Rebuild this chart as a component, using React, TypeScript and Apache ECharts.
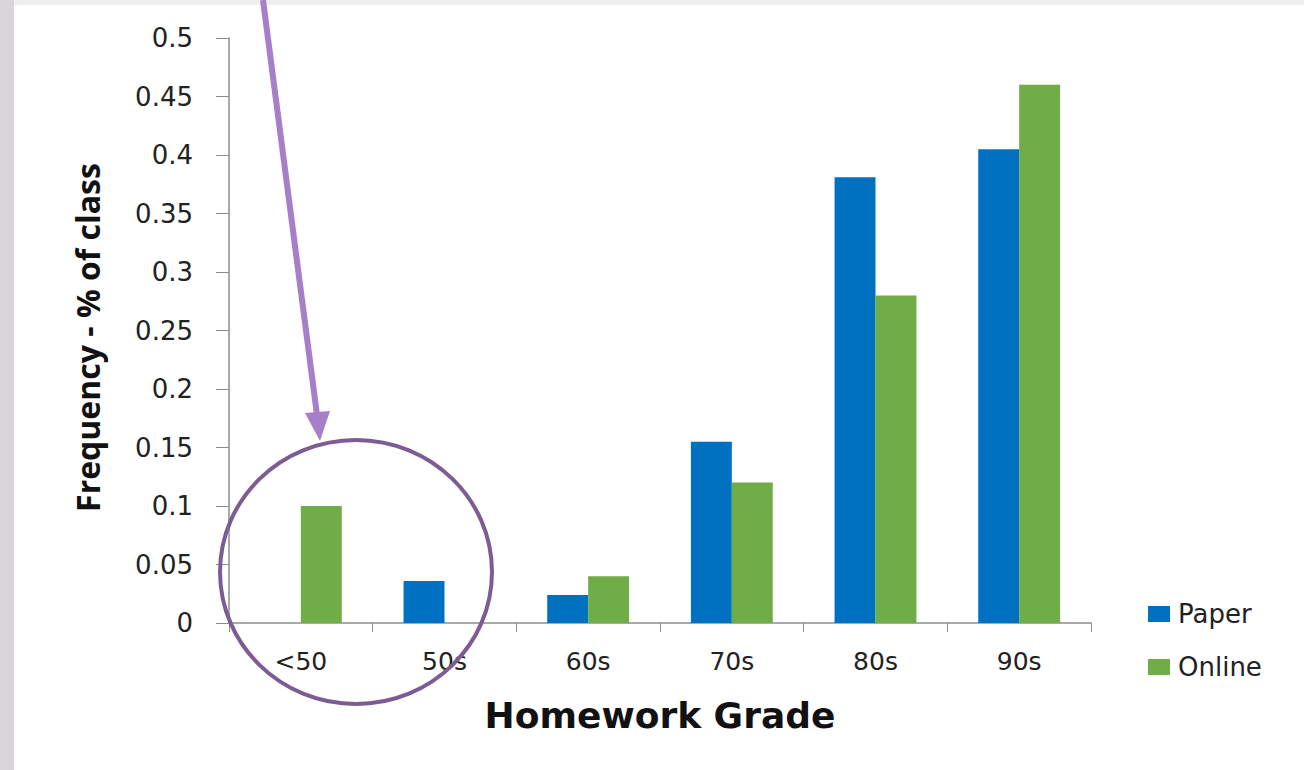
import React, { useEffect, useRef } from "react";
import * as echarts from "echarts";

const categories = ["<50", "50s", "60s", "70s", "80s", "90s"];
const paper = [0, 0.036, 0.024, 0.155, 0.381, 0.405];
const online = [0.1, 0, 0.04, 0.12, 0.28, 0.46];
const yTicks = { min: 0, max: 0.5, interval: 0.05 };

const FONT = "'DejaVu Sans', sans-serif";

export default function App() {
  const ref = useRef<HTMLDivElement>(null);
  useEffect(() => {
    const chart = echarts.init(ref.current!, null, { renderer: "svg" });
    chart.setOption({
      animation: false,
      backgroundColor: "#ffffff",
      grid: { left: 229, right: 213, top: 38, bottom: 147, containLabel: false },
      legend: {
        orient: "vertical",
        left: 1143,
        top: 596,
        itemWidth: 22,
        itemHeight: 16,
        itemGap: 27,
        icon: "rect",
        textStyle: { fontSize: 26, color: "#222", fontFamily: FONT, padding: [0, 0, 0, 3] },
        data: ["Paper", "Online"],
      },
      xAxis: {
        type: "category",
        data: categories,
        name: "Homework Grade",
        nameLocation: "middle",
        nameGap: 74,
        nameTextStyle: { fontSize: 36, fontWeight: "bold", color: "#111", fontFamily: FONT },
        axisLine: { lineStyle: { color: "#8c8c8c", width: 1.5 } },
        axisTick: { show: true, length: 9, alignWithLabel: false, lineStyle: { color: "#8c8c8c" } },
        axisLabel: { fontSize: 25, color: "#222", margin: 26, fontFamily: FONT },
      },
      yAxis: {
        type: "value",
        min: yTicks.min,
        max: yTicks.max,
        interval: yTicks.interval,
        name: "Frequency - % of class",
        nameLocation: "middle",
        nameGap: 126,
        nameRotate: 90,
        nameTextStyle: {
          fontSize: 32,
          fontWeight: "bold",
          color: "#111",
          fontFamily: "'Open Sans', sans-serif",
          padding: [0, 14, 0, 0],
        },
        splitLine: { show: false },
        axisLine: { show: true, lineStyle: { color: "#8c8c8c", width: 1.5 } },
        axisTick: { show: true, length: 13, lineStyle: { color: "#8c8c8c" } },
        axisLabel: { fontSize: 26, color: "#222", margin: 36, fontFamily: FONT },
      },
      series: [
        {
          name: "Paper",
          type: "bar",
          data: paper,
          itemStyle: { color: "#0070C0" },
          barGap: "0%",
          barCategoryGap: "43%",
        },
        {
          name: "Online",
          type: "bar",
          data: online,
          itemStyle: { color: "#70AD47" },
          barGap: "0%",
          barCategoryGap: "43%",
        },
      ],
      graphic: [
        { type: "rect", left: 0, top: 0, shape: { width: 1304, height: 5 }, style: { fill: "#efefef" }, z: 100 },
        { type: "rect", left: 0, top: 0, shape: { width: 14, height: 770 }, style: { fill: "#d9d5da" }, z: 100 },
        {
          type: "line",
          shape: { x1: 263, y1: 0, x2: 317, y2: 415 },
          style: { stroke: "#a67fc8", lineWidth: 6 },
          z: 100,
        },
        {
          type: "polygon",
          shape: { points: [[305, 413], [330, 411], [320, 441]] },
          style: { fill: "#a67fc8" },
          z: 100,
        },
        {
          type: "ellipse",
          shape: { cx: 356, cy: 572, rx: 136, ry: 132 },
          style: { stroke: "#7c5c93", lineWidth: 4, fill: "none" },
          z: 100,
        },
      ],
    });
    return () => chart.dispose();
  }, []);
  return (
    <div style={{ position: "fixed", left: 0, top: 0 }}>
      <div ref={ref} style={{ width: 1304, height: 770 }} />
    </div>
  );
}
